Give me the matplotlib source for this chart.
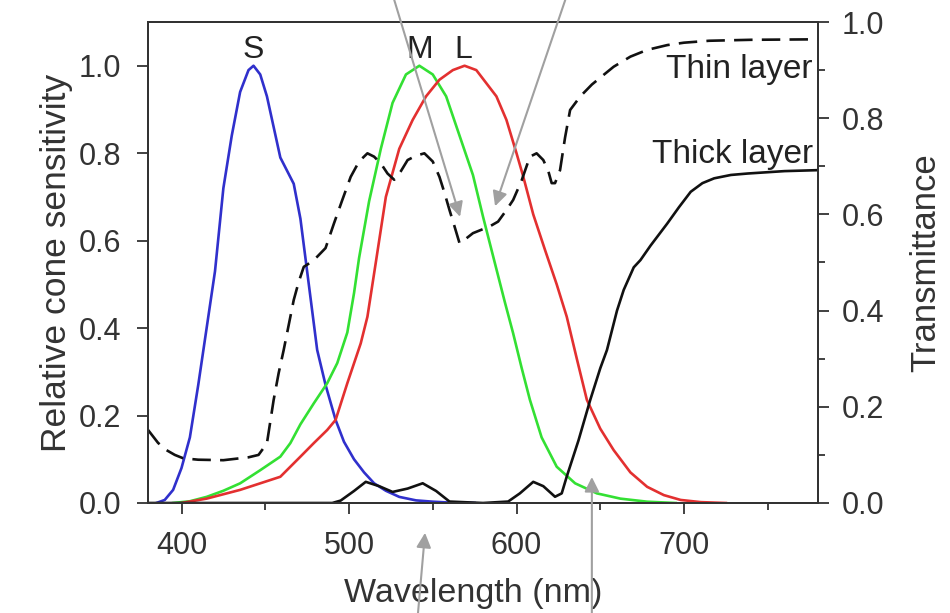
import matplotlib
matplotlib.use("Agg")
import matplotlib.pyplot as plt
from matplotlib.ticker import MultipleLocator

plt.rcParams['font.family'] = ['Liberation Sans', 'DejaVu Sans']

# ---- data ----
wl_S = [385, 390, 395, 400, 405, 410, 415, 420, 425, 430, 435, 440, 443, 447, 451, 455, 459, 463,
        467, 471, 474, 477, 481, 486, 492, 497, 503, 509, 515, 522, 530, 540, 550, 560, 575]
S = [0, 0.007, 0.03, 0.08, 0.15, 0.27, 0.40, 0.53, 0.72, 0.84, 0.94, 0.99, 1.0, 0.98, 0.93, 0.86,
     0.79, 0.76, 0.73, 0.65, 0.56, 0.47, 0.35, 0.27, 0.19, 0.14, 0.10, 0.07, 0.045, 0.028, 0.014,
     0.006, 0.003, 0.001, 0]

wl_M = [395, 405, 415, 425, 435, 447, 459, 465, 471, 479, 487, 493, 499, 503, 506, 512, 519, 526,
        534, 542, 550, 558, 566, 574, 580, 587, 593, 598, 603, 608, 615, 624, 635, 648, 662, 678, 695]
M = [0, 0.004, 0.014, 0.028, 0.045, 0.075, 0.106, 0.137, 0.18, 0.228, 0.274, 0.32, 0.39, 0.48, 0.56,
     0.69, 0.81, 0.915, 0.98, 1.0, 0.98, 0.93, 0.84, 0.75, 0.655, 0.55, 0.46, 0.388, 0.31, 0.236,
     0.15, 0.083, 0.045, 0.022, 0.01, 0.003, 0]

wl_L = [400, 415, 435, 447, 459, 471, 479, 487, 492, 499, 507, 511, 516, 522, 530, 538, 546, 554,
        562, 569, 576, 582, 588, 594, 600, 604, 610, 617, 624, 630, 636, 642, 650, 658, 668, 678,
        688, 698, 710, 725]
L = [0, 0.01, 0.03, 0.045, 0.06, 0.106, 0.137, 0.167, 0.19, 0.274, 0.365, 0.426, 0.55, 0.70, 0.81,
     0.876, 0.93, 0.968, 0.99, 1.0, 0.99, 0.96, 0.93, 0.876, 0.80, 0.747, 0.66, 0.579, 0.50, 0.426,
     0.33, 0.236, 0.17, 0.121, 0.07, 0.037, 0.018, 0.007, 0.002, 0]

wl_thin = [380, 386, 391, 396, 401, 410, 425, 440, 446, 451, 455, 458, 461, 464, 467, 470, 473,
           477, 481, 486, 491, 496, 501, 506, 511, 515, 519, 523, 527, 531, 535, 540, 545, 550,
           554, 557, 560, 563, 566, 570, 574, 579, 584, 589, 594, 598, 603, 608, 612, 616, 619,
           621, 623, 626, 629, 632, 638, 645, 652, 658, 668, 678, 690, 700, 715, 740, 780]
thin = [0.152, 0.125, 0.11, 0.10, 0.093, 0.09, 0.089, 0.095, 0.10, 0.124, 0.214, 0.27, 0.318, 0.37,
        0.422, 0.46, 0.491, 0.50, 0.512, 0.53, 0.581, 0.63, 0.678, 0.71, 0.727, 0.72, 0.706, 0.685,
        0.672, 0.69, 0.713, 0.722, 0.727, 0.71, 0.678, 0.645, 0.609, 0.575, 0.54, 0.55, 0.561,
        0.568, 0.575, 0.585, 0.609, 0.63, 0.67, 0.72, 0.727, 0.713, 0.69, 0.665, 0.665, 0.692,
        0.76, 0.817, 0.845, 0.87, 0.89, 0.907, 0.928, 0.942, 0.952, 0.957, 0.961, 0.963, 0.964]

wl_thick = [380, 490, 495, 503, 510, 518, 526, 535, 544, 552, 560, 580, 595, 602, 610, 616, 623,
            627, 630, 637, 644, 650, 654, 660, 664, 670, 674, 680, 690, 697, 704, 711, 718, 728,
            738, 760, 780]
thick = [0, 0, 0.005, 0.025, 0.044, 0.035, 0.023, 0.03, 0.041, 0.025, 0.003, 0, 0.003, 0.02, 0.044,
         0.035, 0.013, 0.02, 0.055, 0.13, 0.214, 0.28, 0.318, 0.40, 0.443, 0.49, 0.505, 0.535,
         0.581, 0.615, 0.647, 0.665, 0.675, 0.682, 0.685, 0.69, 0.692]

cone_labels = ["S", "M", "L"]
cone_label_x = [443, 542, 568]
layer_labels = ["Thin layer", "Thick layer"]
layer_label_y = [0.884, 0.707]

# ---- figure ----
fig = plt.figure(figsize=(9.5, 6.13), dpi=100)
ax = fig.add_axes([148/950, 1-503/613, (818-148)/950, (503-22)/613])
ax2 = ax.twinx()

lw = 1.9
ax.plot(wl_S, S, color='#3030cc', lw=lw, solid_joinstyle='round')
ax.plot(wl_M, M, color='#33e033', lw=lw, solid_joinstyle='round')
ax.plot(wl_L, L, color='#e33030', lw=lw, solid_joinstyle='round')
ax2.plot(wl_thin, thin, color='#111111', lw=lw, dashes=(7, 3.5))
ax2.plot(wl_thick, thick, color='#111111', lw=lw, solid_joinstyle='round')

ax.set_xlim(380, 780)
ax.set_ylim(0, 1.1)
ax2.set_ylim(0, 1.0)

fs = 22
tc = '#333333'
ax.set_xticks([400, 500, 600, 700])
ax.xaxis.set_minor_locator(MultipleLocator(50))
ax.set_yticks([0, 0.2, 0.4, 0.6, 0.8, 1.0])
ax.set_yticklabels(['0.0', '0.2', '0.4', '0.6', '0.8', '1.0'])
ax2.set_yticks([0, 0.2, 0.4, 0.6, 0.8, 1.0])
ax2.set_yticklabels(['0.0', '0.2', '0.4', '0.6', '0.8', '1.0'])
ax2.yaxis.set_minor_locator(MultipleLocator(0.1))

for a in (ax, ax2):
    a.tick_params(which='major', direction='out', length=8, width=1.3, labelsize=fs,
                  color=tc, labelcolor=tc)
    a.tick_params(which='minor', direction='out', length=5, width=1.3, color=tc)
    for sp in a.spines.values():
        sp.set_linewidth(1.4)
        sp.set_color(tc)
ax.tick_params(axis='x', which='major', pad=12)
ax.tick_params(axis='y', which='major', pad=11)
ax2.tick_params(axis='y', which='major', pad=9)

ax.set_xlabel('Wavelength (nm)', fontsize=24.5, color=tc, labelpad=16)
ax.xaxis.set_label_coords(0.485, -0.155)
ax.xaxis.label.set_va('top')
ax.set_ylabel('Relative cone sensitivity', fontsize=25.5, color=tc, labelpad=4)
ax2.set_ylabel('Transmittance', fontsize=25, color=tc, labelpad=18)

for t, x in zip(cone_labels, cone_label_x):
    ax.text(x, 1.018, t, ha='center', va='baseline', fontsize=23, color='#222222')
for t, y in zip(layer_labels, layer_label_y):
    ax2.text(777, y, t, ha='right', va='baseline', fontsize=24, color='#222222')

# grey pointer arrows coming from outside the plot
arrow_heads = [(566.3, 0.595), (587.2, 0.617), (545.4, -0.062), (645.0, 0.054)]
arrow_tails = [(0.415, 1.0), (0.595, 1.0), (0.44, 0.0), (0.623, 0.0)]
for head, tail in zip(arrow_heads, arrow_tails):
    ax2.annotate('', xy=head, xycoords='data', xytext=tail, textcoords='figure fraction',
                 annotation_clip=False,
                 arrowprops=dict(arrowstyle='-|>', color='#a0a0a0', lw=1.5,
                                 mutation_scale=22, shrinkA=0, shrinkB=0))

fig.savefig('out.png', dpi=100)
